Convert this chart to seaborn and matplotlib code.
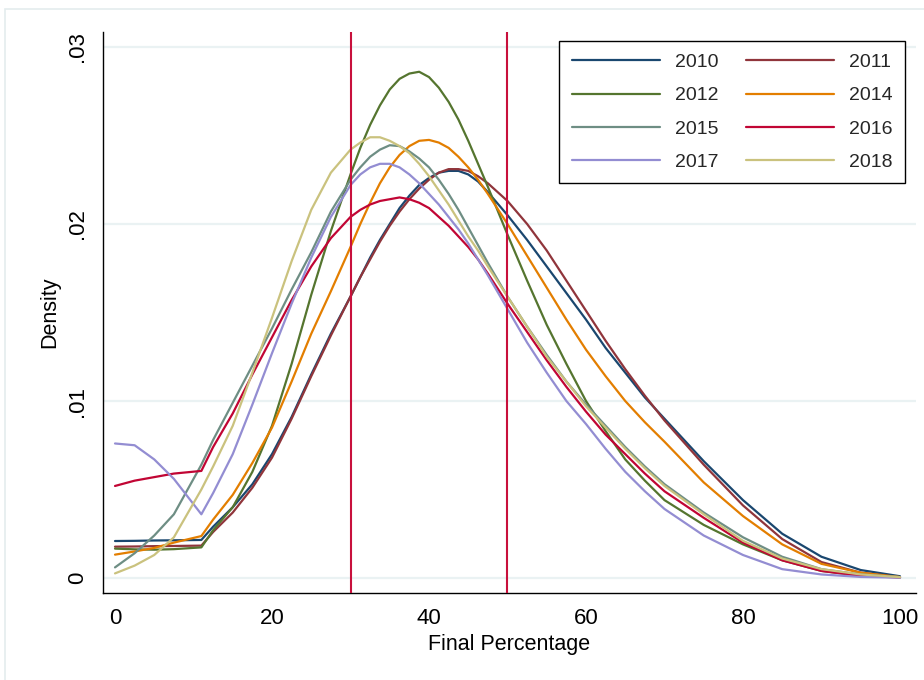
import matplotlib
matplotlib.use("Agg")
import matplotlib.pyplot as plt
from matplotlib.lines import Line2D
from matplotlib.patches import Rectangle
import pandas as pd
import seaborn as sns

# ---------------- data ----------------
x_vals = [0, 2.5, 5, 7.5, 11, 12.5, 15, 17.5, 20, 22.5, 25, 27.5, 30, 31.25, 32.5,
          33.75, 35, 36.25, 37.5, 38.75, 40, 41.25, 42.5, 43.75, 45, 46.25, 47.5,
          50, 52.5, 55, 57.5, 60, 62.5, 65, 67.5, 70, 75, 80, 85, 90, 95, 100]

d2010 = [.00209, .00210, .00212, .00213, .00215, .0029, .0040, .0053, .0070, .0091,
         .0115, .0138, .0159, .0170, .0181, .0191, .0200, .0209, .0216, .0222,
         .0226, .0229, .0230, .0230, .0228, .0224, .0218, .0205, .0191, .0176,
         .0161, .0146, .0130, .0116, .0102, .0090, .0066, .0044, .0025, .0012,
         .00045, .0001]
d2011 = [.00177, .00178, .00180, .00181, .00183, .0026, .0037, .0051, .0068, .0090,
         .0114, .0137, .0159, .0170, .0180, .0190, .0199, .0207, .0214, .0220,
         .0225, .0229, .0231, .0231, .0230, .0227, .0223, .0213, .0200, .0185,
         .0168, .0151, .0134, .0118, .0103, .0089, .0064, .0041, .0022, .0009,
         .0003, .00005]
d2012 = [.00166, .00162, .00160, .00163, .00173, .0027, .0040, .0060, .0086, .0121,
         .0160, .0196, .0228, .0243, .0256, .0267, .0276, .0282, .0285, .0286,
         .0283, .0277, .0269, .0259, .0247, .0234, .0221, .0194, .0168, .0143,
         .0121, .0100, .0083, .0067, .0055, .0044, .0030, .0019, .0010, .0004,
         .00012, .00005]
d2014 = [.00132, .0015, .0017, .0020, .00237, .0033, .0047, .0065, .0085, .0111,
         .0138, .0162, .0187, .0200, .0212, .0223, .0232, .0239, .0244, .0247,
         .02475, .0246, .0243, .0238, .0232, .0225, .0217, .0200, .0182, .0164,
         .0146, .0129, .0114, .0100, .0088, .0077, .0054, .0035, .0019, .0008,
         .0003, .00005]
d2015 = [.0006, .0014, .0024, .0036, .0064, .0078, .0099, .0120, .0141, .0163,
         .0184, .0207, .0225, .0232, .0238, .0242, .02445, .0244, .0241, .0237,
         .0232, .0225, .0217, .0208, .0198, .0188, .0178, .0159, .0142, .0126,
         .0111, .0098, .0086, .0074, .0063, .0053, .0037, .0023, .0012, .0005,
         .0002, .00005]
d2016 = [.0052, .0055, .0057, .0059, .00605, .0074, .0093, .0115, .0136, .0157,
         .0176, .0192, .0204, .0208, .0211, .0213, .0214, .0215, .0214, .0212,
         .0209, .0204, .0199, .0193, .0187, .0180, .0172, .0155, .0139, .0123,
         .0108, .0094, .0081, .0070, .0059, .0049, .0034, .0020, .0010, .0004,
         .00012, .00003]
d2017 = [.0076, .0075, .0067, .0056, .0036, .0048, .0070, .0098, .0127, .0155,
         .0181, .0204, .0222, .0228, .0232, .0234, .0234, .0232, .0228, .0223,
         .0217, .0211, .0204, .0197, .0189, .0180, .0171, .0152, .0133, .0116,
         .0100, .0087, .0073, .0060, .0049, .0039, .0024, .0013, .0005, .0002,
         .00006, .00002]
d2018 = [.00026, .0007, .0013, .0023, .0050, .0063, .0086, .0116, .0147, .0179,
         .0208, .0229, .0242, .0246, .0249, .0249, .0247, .0244, .0240, .0234,
         .0227, .0219, .0211, .0202, .0193, .0185, .0176, .0159, .0142, .0125,
         .0111, .0097, .0085, .0073, .0062, .0052, .0036, .0021, .0011, .0005,
         .0002, .00005]

years = ["2010", "2011", "2012", "2014", "2015", "2016", "2017", "2018"]
series = [d2010, d2011, d2012, d2014, d2015, d2016, d2017, d2018]
colors = ["#1a476f", "#90353b", "#55752f", "#e37e00",
          "#6e8e84", "#c10534", "#938dd2", "#cac27e"]
cut_lines = [30, 50]
x_ticks = [0, 20, 40, 60, 80, 100]
y_ticks = [0, 0.01, 0.02, 0.03]
y_tick_labels = ["0", ".01", ".02", ".03"]

df = pd.concat(
    [pd.DataFrame({"x": x_vals, "density": s, "year": y}) for y, s in zip(years, series)],
    ignore_index=True)
palette = dict(zip(years, colors))

# ---------------- figure ----------------
sns.set_theme(style="white")
plt.rcParams['font.family'] = ['Liberation Sans', 'DejaVu Sans']

W, H = 924, 680
fig = plt.figure(figsize=(W / 100, H / 100), dpi=100)
fig.patch.set_facecolor("white")
fig.patches.append(Rectangle((5 / W, -0.05), 1.1, (1 - 9 / H) + 0.05,
                             transform=fig.transFigure, fill=False,
                             edgecolor="#e4ecee", linewidth=1.2))

left, right, top, bottom = 103, 916, 32, 593
ax = fig.add_axes([left / W, 1 - bottom / H, (right - left) / W, (bottom - top) / H])

for yt in y_ticks:
    ax.axhline(yt, color="#eaf2f3", linewidth=1.6, zorder=0)

sns.lineplot(data=df, x="x", y="density", hue="year", palette=palette,
             estimator=None, sort=False, linewidth=1.6, ax=ax, legend=False)

for c in cut_lines:
    ax.axvline(c, color="#c8103c", linewidth=1.5, zorder=5)

ax.set_xlim(-1.53, 102.04)
ax.set_ylim(-0.000847, 0.030847)

for s in ["top", "right"]:
    ax.spines[s].set_visible(False)
for s in ["left", "bottom"]:
    ax.spines[s].set_color("black")
    ax.spines[s].set_linewidth(1.0)

ax.set_xticks(x_ticks)
ax.set_xticklabels([str(v) for v in x_ticks])
ax.set_yticks(y_ticks)
ax.set_yticklabels(y_tick_labels, rotation=90, va="center")
ax.tick_params(axis="both", direction="out", length=6, width=1, color="black",
               labelsize=16, labelcolor="black")
ax.tick_params(axis="x", pad=4.5)
ax.tick_params(axis="y", pad=5)

ax.set_xlabel("Final Percentage", fontsize=15.5, color="black", labelpad=4)
ax.set_ylabel("Density", fontsize=15.5, color="black", labelpad=5)

order = ["2010", "2012", "2015", "2017", "2011", "2014", "2016", "2018"]
handles = [Line2D([0], [0], color=palette[y], linewidth=1.6) for y in order]
leg = ax.legend(handles, order, ncol=2, loc="upper right",
                bbox_to_anchor=(905 / W, 1 - 41 / H), bbox_transform=fig.transFigure,
                borderaxespad=0, fontsize=14, frameon=True, fancybox=False,
                framealpha=1, edgecolor="black", handlelength=4.5,
                handletextpad=0.77, columnspacing=1.45, labelspacing=0.8,
                borderpad=0.65)
leg.get_frame().set_linewidth(1.0)

fig.savefig("out.png", dpi=100)
